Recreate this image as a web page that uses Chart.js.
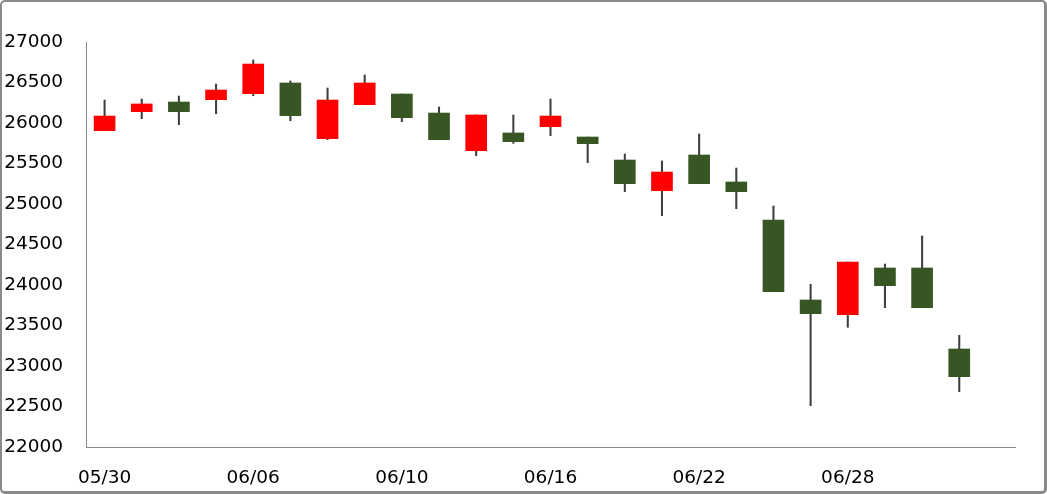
<!DOCTYPE html>
<html>
<head>
<meta charset="utf-8">
<script src="https://cdn.jsdelivr.net/npm/chart.js@4/dist/chart.umd.min.js"></script>
<style>
  html, body { margin: 0; padding: 0; background: #fff; }
  #wrap { position: relative; width: 1047px; height: 494px; overflow: hidden; }
  #frame { position: absolute; left: 0; top: 0; border: 2px solid #8a8a8a; border-bottom-width: 3px; border-right-width: 3px; height: 489px; width: 1042px; border-radius: 5px; pointer-events: none; }
  canvas { position: absolute; left: 0; top: 0; }
</style>
</head>
<body>
<div id="wrap">
  <canvas id="c" width="1047" height="494"></canvas>
  <div id="frame"></div>
</div>
<script>
const dates = ['05/30','05/31','06/01','06/02','06/06','06/07','06/08','06/09','06/10','06/13','06/14','06/15','06/16','06/17','06/20','06/21','06/22','06/23','06/24','06/27','06/28','06/29','06/30','07/01',''];
const opens  = [25905,26140,26259,26288,26362,26494,25807,26226,26358,26123,25658,25877,25955,25827,25543,25164,25605,25272,24802,23815,23634,24210,24210,23210,null];
const highs  = [26284,26296,26333,26481,26778,26519,26432,26593,26358,26198,26099,26099,26296,25827,25617,25531,25864,25444,24975,24009,24284,24259,24605,23379,null];
const lows   = [25905,26053,25979,26115,26337,26028,25794,26226,26016,25794,25596,25749,25844,25510,25152,24856,25251,24942,23917,22510,23478,23720,23720,22683,null];
const closes = [26086,26235,26140,26407,26728,26091,26284,26494,26066,25794,26099,25770,26086,25745,25251,25395,25251,25152,23917,23646,24284,23992,23720,22868,null];
const yTicks = [22000,22500,23000,23500,24000,24500,25000,25500,26000,26500,27000];

const UP = '#ff0000', DOWN = '#375623', WICK = '#3f3f3f';
const bodies = opens.map((o, i) => o == null ? null : [o, closes[i]]);
const wicks = lows.map((l, i) => l == null ? null : [l, highs[i]]);
const bodyColors = opens.map((o, i) => (o != null && closes[i] >= o) ? UP : DOWN);
const FONT = { family: 'DejaVu Sans', size: 18.5 };

new Chart(document.getElementById('c'), {
  type: 'bar',
  data: {
    labels: dates,
    datasets: [
      { label: 'body', data: bodies, backgroundColor: bodyColors, borderWidth: 0, barThickness: 21, grouped: false, order: 0 },
      { label: 'wick', data: wicks, backgroundColor: WICK, borderWidth: 0, barThickness: 1.4, grouped: false, order: 1 }
    ]
  },
  options: {
    responsive: false,
    animation: false,
    layout: { padding: { left: 0, right: 32, top: 42, bottom: 0 } },
    plugins: { legend: { display: false }, tooltip: { enabled: false } },
    scales: {
      x: {
        offset: true,
        afterFit: s => { s.height = 47; },
        grid: { display: false, drawTicks: false },
        border: { display: true, color: '#888888', width: 1 },
        ticks: {
          color: '#000', font: FONT, autoSkip: false, maxRotation: 0, padding: 20,
          callback: function (v, i) { return i % 4 === 0 ? dates[i] : ''; }
        }
      },
      y: {
        min: 22000, max: 27000,
        afterFit: s => { s.width = 86; },
        afterBuildTicks: s => { s.ticks = yTicks.map(v => ({ value: v })); },
        grid: { display: false, drawTicks: false },
        border: { display: true, color: '#888888', width: 1 },
        ticks: { color: '#000', font: FONT, padding: 23, callback: v => String(v) }
      }
    }
  }
});
</script>
</body>
</html>
